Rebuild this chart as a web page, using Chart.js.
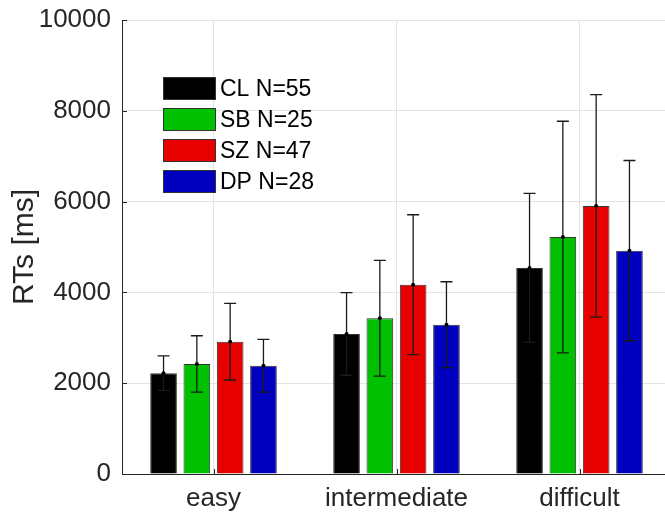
<!DOCTYPE html>
<html>
<head>
<meta charset="utf-8">
<script src="https://cdn.jsdelivr.net/npm/chart.js@4"></script>
<style>
html,body{margin:0;padding:0;background:#fff;overflow:hidden;width:665px;height:516px;}
canvas{display:block;}
</style>
</head>
<body>
<canvas id="c" width="671" height="516"></canvas>
<script>
const categories = ['easy', 'intermediate', 'difficult'];
const seriesLabels = ['CL N=55', 'SB N=25', 'SZ N=47', 'DP N=28'];
const clMean = [2220, 3085, 4540];
const clErr  = [380, 910, 1640];
const sbMean = [2425, 3430, 5220];
const sbErr  = [620, 1275, 2550];
const szMean = [2915, 4170, 5905];
const szErr  = [845, 1540, 2450];
const dpMean = [2385, 3290, 4920];
const dpErr  = [580, 945, 1985];
const yTicks = [0, 2000, 4000, 6000, 8000, 10000];

const colors = ['#000000', '#00c000', '#e60000', '#0000be'];
const means = [clMean, sbMean, szMean, dpMean];
const errs = [clErr, sbErr, szErr, dpErr];
const FONT = "'Liberation Sans', Arial, Helvetica, sans-serif";

const errorBarPlugin = {
  id: 'errorBars',
  afterDatasetsDraw(chart) {
    const ctx = chart.ctx;
    const ys = chart.scales.y;
    chart.data.datasets.forEach((ds, i) => {
      const meta = chart.getDatasetMeta(i);
      meta.data.forEach((el, j) => {
        const m = ds.data[j], e = ds.errors[j];
        const x = el.x;
        const yt = ys.getPixelForValue(m + e);
        const yb = ys.getPixelForValue(m - e);
        ctx.save();
        ctx.strokeStyle = '#1a1a1a';
        ctx.lineWidth = 1.3;
        ctx.beginPath();
        ctx.moveTo(x, yt); ctx.lineTo(x, yb);
        ctx.moveTo(x - 6, yt); ctx.lineTo(x + 6, yt);
        ctx.moveTo(x - 6, yb); ctx.lineTo(x + 6, yb);
        ctx.stroke();
        ctx.fillStyle = '#000';
        ctx.beginPath();
        ctx.arc(x, el.y, 2, 0, Math.PI * 2);
        ctx.fill();
        ctx.restore();
      });
    });
    // inward tick marks (MATLAB style)
    const xs = chart.scales.x;
    const area = chart.chartArea;
    ctx.save();
    ctx.strokeStyle = '#262626';
    ctx.lineWidth = 1;
    ctx.beginPath();
    yTicks.forEach(v => {
      const y = Math.round(ys.getPixelForValue(v)) + 0.5;
      ctx.moveTo(area.left, y); ctx.lineTo(area.left + 5, y);
    });
    categories.forEach((c, k) => {
      const x = Math.round(xs.getPixelForValue(k)) + 0.5;
      ctx.moveTo(x, area.bottom); ctx.lineTo(x, area.bottom - 5);
    });
    ctx.stroke();
    ctx.restore();
  }
};

const legendPlugin = {
  id: 'insideLegend',
  afterDraw(chart) {
    const ctx = chart.ctx;
    ctx.save();
    const x0 = 163, w = 53, h = 23, pitch = 31, top0 = 77;
    chart.data.datasets.forEach((ds, i) => {
      const y = top0 + i * pitch;
      ctx.fillStyle = ds.backgroundColor;
      ctx.fillRect(x0, y, w, h);
      ctx.strokeStyle = '#333';
      ctx.lineWidth = 1;
      ctx.strokeRect(x0 + 0.5, y + 0.5, w - 1, h - 1);
      ctx.fillStyle = '#000';
      ctx.font = '23px ' + FONT;
      ctx.textBaseline = 'middle';
      ctx.textAlign = 'left';
      ctx.fillText(ds.label, x0 + w + 4, y + h / 2 + 1);
    });
    ctx.restore();
  }
};

new Chart(document.getElementById('c'), {
  type: 'bar',
  data: {
    labels: categories,
    datasets: seriesLabels.map((lab, i) => ({
      label: lab,
      data: means[i],
      errors: errs[i],
      backgroundColor: colors[i],
      borderColor: '#333333',
      borderWidth: 1,
      categoryPercentage: 0.728,
      barPercentage: 0.8
    }))
  },
  options: {
    responsive: false,
    animation: false,
    layout: { padding: { top: 20, left: 0, right: 0, bottom: 0 } },
    plugins: { legend: { display: false }, tooltip: { enabled: false } },
    scales: {
      x: {
        grid: { offset: false, color: '#e3e3e3', drawTicks: false },
        border: { display: true, color: '#262626', width: 1 },
        ticks: { color: '#262626', font: { family: FONT, size: 26 }, padding: 9, maxRotation: 0 },
        afterFit(s) { s.height = 42; s.paddingLeft = 0; s.paddingRight = 0; }
      },
      y: {
        min: 0, max: 10000,
        afterBuildTicks(s) { s.ticks = yTicks.map(v => ({ value: v })); },
        grid: { color: '#e3e3e3', drawTicks: false },
        border: { display: true, color: '#262626', width: 1 },
        ticks: { color: '#262626', font: { family: FONT, size: 26 }, padding: 11, callback: v => String(v) },
        title: { display: true, text: 'RTs [ms]', color: '#262626', font: { family: FONT, size: 30 }, padding: { top: 7, bottom: 0 } },
        afterFit(s) { s.width = 122; s.paddingTop = 0; s.paddingBottom = 0; }
      }
    }
  },
  plugins: [errorBarPlugin, legendPlugin]
});
</script>
</body>
</html>
